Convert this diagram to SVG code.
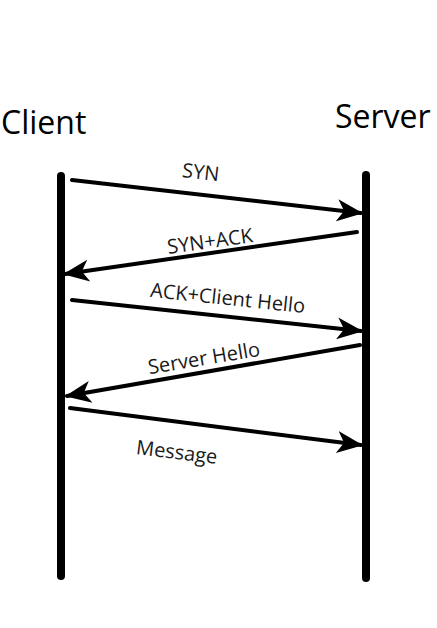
<svg xmlns="http://www.w3.org/2000/svg" width="437" height="628" viewBox="0 0 437 628">
<style>
.life{stroke:#000;stroke-width:8;stroke-linecap:round;fill:none}
.msg{stroke:#000;stroke-width:4;stroke-linecap:round;fill:none;marker-end:url(#ah)}
.title{font-family:"Open Sans","Noto Sans",sans-serif;font-size:32px;fill:#000}
.lbl{font-family:"Open Sans","Noto Sans",sans-serif;font-size:20px;fill:#1a1a1a;text-anchor:middle}
</style>
<defs>
<marker id="ah" markerUnits="userSpaceOnUse" markerWidth="30" markerHeight="30" refX="24" refY="11" orient="auto" viewBox="0 0 30 22">
<path d="M0,0 L26,11 L0,22 L7,11 Z" fill="#000"/>
</marker>
</defs>
<rect width="437" height="628" fill="#fff"/>
<g id="client">
<text class="title" x="1" y="134">Client</text>
<line class="life" x1="61" y1="176" x2="61" y2="576"/>
</g>
<g id="server">
<text class="title" x="335" y="128">Server</text>
<line class="life" x1="366" y1="175" x2="366" y2="578"/>
</g>
<g id="connectors">
<line class="msg" x1="72" y1="180" x2="361" y2="213"/>
<text class="lbl" transform="translate(200,179) rotate(6.5)">SYN</text>
<line class="msg" x1="357" y1="232" x2="65" y2="274"/>
<text class="lbl" transform="translate(211,248) rotate(-8)">SYN+ACK</text>
<line class="msg" x1="72" y1="300" x2="361" y2="331"/>
<text class="lbl" transform="translate(227,305) rotate(6)">ACK+Client Hello</text>
<line class="msg" x1="360" y1="345" x2="67" y2="396"/>
<text class="lbl" transform="translate(205,365) rotate(-9.5)">Server Hello</text>
<line class="msg" x1="70" y1="408" x2="361" y2="445"/>
<text class="lbl" transform="translate(176,459) rotate(7)">Message</text>
</g>
</svg>
